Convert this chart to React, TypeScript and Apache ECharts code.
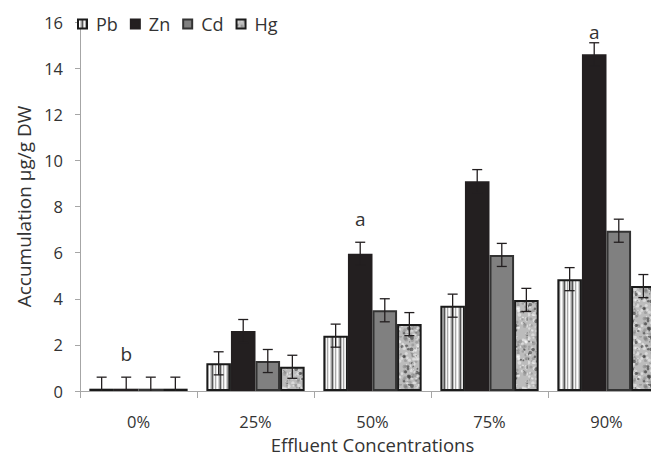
import React, { useEffect, useRef } from "react";
import * as echarts from "echarts";

const categories = ["0%", "25%", "50%", "75%", "90%"];
const seriesNames = ["Pb", "Zn", "Cd", "Hg"];
const pbValues = [0.1, 1.2, 2.4, 3.7, 4.85];
const znValues = [0.1, 2.6, 5.95, 9.1, 14.6];
const cdValues = [0.1, 1.3, 3.5, 5.9, 6.95];
const hgValues = [0.1, 1.05, 2.9, 3.95, 4.55];
const pbErrors = [0.5, 0.5, 0.5, 0.5, 0.5];
const znErrors = [0.5, 0.5, 0.5, 0.5, 0.5];
const cdErrors = [0.5, 0.5, 0.5, 0.5, 0.5];
const hgErrors = [0.5, 0.5, 0.5, 0.5, 0.5];
const znLetters = ["b", "", "a", "", "a"];
const yTicks = { min: 0, max: 16, interval: 2 };

const FONT = "'Open Sans', 'Liberation Sans', sans-serif";
const TEXT = "#333333";
const AXIS = "#a6a6a6";
const GAP = 0.16;

function stripeCanvas(): HTMLCanvasElement {
  const c = document.createElement("canvas");
  const cols = ["#e4e4e4", "#ffffff", "#d2d2d2", "#9c9c9c", "#555555", "#bdbdbd", "#f4f4f4", "#a9a9a9"];
  c.width = cols.length;
  c.height = 4;
  const ctx = c.getContext("2d")!;
  cols.forEach((col, i) => {
    ctx.fillStyle = col;
    ctx.fillRect(i, 0, 1, 4);
  });
  return c;
}

function mottleCanvas(): HTMLCanvasElement {
  const c = document.createElement("canvas");
  c.width = 48;
  c.height = 48;
  const ctx = c.getContext("2d")!;
  ctx.fillStyle = "#bcbcbc";
  ctx.fillRect(0, 0, 48, 48);
  let s = 12345;
  const rnd = () => {
    s = (s * 1103515245 + 12345) & 0x7fffffff;
    return s / 0x7fffffff;
  };
  for (let i = 0; i < 260; i++) {
    const x = rnd() * 48;
    const y = rnd() * 48;
    const r = 0.6 + rnd() * 1.4;
    const k = rnd();
    ctx.fillStyle =
      k > 0.55 ? "rgba(255,255,255,0.45)" : k > 0.2 ? "rgba(110,110,110,0.35)" : "rgba(40,40,40,0.55)";
    ctx.beginPath();
    ctx.arc(x, y, r, 0, Math.PI * 2);
    ctx.fill();
  }
  return c;
}

export default function App() {
  const ref = useRef<HTMLDivElement>(null);
  useEffect(() => {
    if (!ref.current) return;
    const chart = echarts.init(ref.current, null, { renderer: "svg" });
    const stripe = stripeCanvas();
    const mottle = mottleCanvas();
    const values = [pbValues, znValues, cdValues, hgValues];
    const errors = [pbErrors, znErrors, cdErrors, hgErrors];
    const fills: any[] = [
      { image: stripe, repeat: "repeat" },
      "#231f20",
      "#808080",
      { image: mottle, repeat: "repeat" },
    ];
    const borders = ["#1a1a1a", "#231f20", "#333333", "#1a1a1a"];

    const barSeries = seriesNames.map((name, i) => ({
      name,
      type: "bar",
      data: values[i],
      barGap: "0%",
      barCategoryGap: `${GAP * 100}%`,
      itemStyle: { color: fills[i], borderColor: borders[i], borderWidth: 2 },
      z: 2,
    }));

    const errData: number[][] = [];
    values.forEach((vals, s) =>
      vals.forEach((v, c) => errData.push([c, v, errors[s][c], s]))
    );

    const errSeries = {
      type: "custom",
      name: "err",
      z: 5,
      silent: true,
      encode: { x: 0, y: 1 },
      data: errData,
      renderItem: (params: any, api: any) => {
        const c = api.value(0);
        const v = api.value(1);
        const e = api.value(2);
        const s = api.value(3);
        const band = api.size([1, 0])[0];
        const bw = (band * (1 - GAP)) / 4;
        const center = api.coord([c, v]);
        const x = center[0] + (s - 1.5) * bw;
        const top = api.coord([c, v + e])[1];
        const low = Math.max(0, v - e);
        const bot = api.coord([c, low])[1];
        const cap = 5;
        const st = { stroke: "#231f20", lineWidth: 1.3 };
        const children: any[] = [
          { type: "line", shape: { x1: x, y1: top, x2: x, y2: bot }, style: st },
          { type: "line", shape: { x1: x - cap, y1: top, x2: x + cap, y2: top }, style: st },
        ];
        if (v - e > 0) {
          children.push({ type: "line", shape: { x1: x - cap, y1: bot, x2: x + cap, y2: bot }, style: st });
        }
        return { type: "group", children };
      },
    };

    const letterData = znLetters
      .map((l, c) => [c, znValues[c] + znErrors[c], l])
      .filter((d) => d[2] !== "");

    const letterSeries = {
      type: "custom",
      name: "letters",
      z: 6,
      silent: true,
      encode: { x: 0, y: 1 },
      data: letterData,
      renderItem: (params: any, api: any) => {
        const c = api.value(0);
        const v = api.value(1);
        const band = api.size([1, 0])[0];
        const bw = (band * (1 - GAP)) / 4;
        const p = api.coord([c, v]);
        const x = p[0] + (1 - 1.5) * bw;
        const y = Math.max(32, p[1] - 23);
        return {
          type: "text",
          style: {
            text: letterData[params.dataIndex][2],
            x,
            y,
            align: "center",
            verticalAlign: "middle",
            fill: TEXT,
            font: `19px ${FONT}`,
          },
        };
      },
    };

    chart.setOption({
      animation: false,
      textStyle: { fontFamily: FONT },
      legend: {
        data: seriesNames,
        icon: "rect",
        left: 72,
        top: 10,
        itemWidth: 9,
        itemHeight: 9,
        itemGap: 12,
        textStyle: { fontSize: 18, color: TEXT, fontFamily: FONT, padding: [0, 0, 0, 4] },
      },
      grid: {
        left: 80,
        right: -14,
        top: 22,
        bottom: 65,
        containLabel: false,
        outerBoundsMode: "none",
      },
      xAxis: {
        type: "category",
        data: categories,
        name: "Effluent Concentrations",
        nameLocation: "middle",
        nameGap: 44,
        nameMoveOverlap: false,
        nameTextStyle: { fontSize: 18.5, lineHeight: 19, color: TEXT, fontFamily: FONT },
        axisLine: { lineStyle: { color: AXIS, width: 1 } },
        axisTick: { show: true, length: 7, lineStyle: { color: AXIS } },
        axisLabel: { fontSize: 16.5, lineHeight: 17, color: TEXT, margin: 22, fontFamily: FONT },
        splitLine: { show: false },
      },
      yAxis: {
        type: "value",
        min: yTicks.min,
        max: yTicks.max,
        interval: yTicks.interval,
        name: "Accumulation µg/g DW",
        nameLocation: "middle",
        nameGap: 47,
        nameMoveOverlap: false,
        nameTextStyle: { fontSize: 19, color: TEXT, fontFamily: FONT },
        axisLine: { show: true, lineStyle: { color: AXIS, width: 1 } },
        axisTick: { show: true, length: 5, lineStyle: { color: AXIS } },
        axisLabel: { fontSize: 16.5, color: TEXT, margin: 17, fontFamily: FONT },
        splitLine: { show: false },
      },
      series: [...barSeries, errSeries, letterSeries],
    });
    return () => chart.dispose();
  }, []);
  return (
    <div
      ref={ref}
      style={{ position: "fixed", left: 0, top: 0, width: 651, height: 456, background: "#fff" }}
    />
  );
}
